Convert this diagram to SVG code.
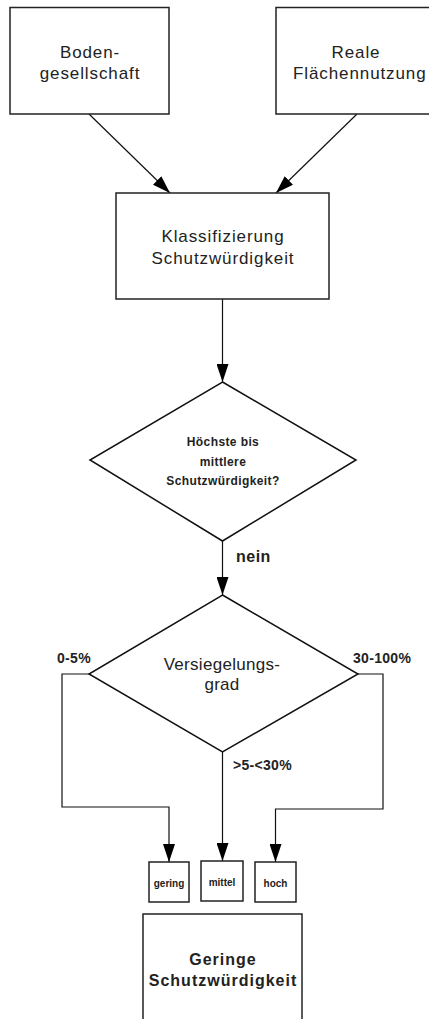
<svg xmlns="http://www.w3.org/2000/svg" width="429" height="1019" viewBox="0 0 429 1019">
<defs>
<marker id="arr" viewBox="0 0 18 12" refX="18" refY="6" markerWidth="18" markerHeight="12" markerUnits="userSpaceOnUse" orient="auto">
<path d="M0,0 L18,6 L0,12 z" fill="#000"/>
</marker>
<style>
.box{fill:#fff;stroke:#222;stroke-width:1.5}
.dia{fill:#fff;stroke:#111;stroke-width:1.5}
.con{fill:none;stroke:#111;stroke-width:1.2}
.arrow{marker-end:url(#arr)}
text{font-family:"Liberation Sans",Arial,sans-serif;fill:#222}
.t16{font-size:17px;letter-spacing:0.9px;text-anchor:middle}
.t12b{font-size:12px;font-weight:bold;letter-spacing:0.4px;text-anchor:middle}
.lbl{font-size:14px;font-weight:bold;letter-spacing:0.3px}
.t10b{font-size:10px;font-weight:bold;text-anchor:middle}
.t16b{font-size:16px;font-weight:bold;letter-spacing:1px;text-anchor:middle}
</style>
</defs>
<rect width="429" height="1019" fill="#fff"/>
<g id="connectors">
<line class="con arrow" x1="89" y1="114" x2="170" y2="193"/>
<line class="con arrow" x1="357" y1="114" x2="276" y2="193"/>
<line class="con arrow" x1="222.5" y1="299" x2="222.5" y2="382"/>
<line class="con arrow" x1="222.5" y1="541" x2="222.5" y2="595"/>
<polyline class="con arrow" points="89,674 62,674 62,807 169,807 169,862"/>
<line class="con arrow" x1="222.5" y1="752" x2="222.5" y2="861"/>
<polyline class="con arrow" points="358,674 383,674 383,809 275.5,809 275.5,862"/>
<text class="lbl" x="236" y="562" style="font-size:16px;letter-spacing:0.5px">nein</text>
<text class="lbl" x="57" y="663">0-5%</text>
<text class="lbl" x="353" y="663">30-100%</text>
<text class="lbl" x="233" y="770">&gt;5-&lt;30%</text>
</g>
<g id="bodengesellschaft">
<rect class="box" x="10" y="7.5" width="159" height="106.5"/>
<text class="t16" x="90" y="58">Boden-</text>
<text class="t16" x="90" y="79">gesellschaft</text>
</g>
<g id="flaechennutzung">
<rect class="box" x="276" y="7.5" width="160" height="106.5"/>
<text class="t16" x="356" y="58">Reale</text>
<text class="t16" x="293" y="79" style="text-anchor:start">Flächennutzung</text>
</g>
<g id="klassifizierung">
<rect class="box" x="116" y="193" width="213" height="106"/>
<text class="t16" x="223" y="242">Klassifizierung</text>
<text class="t16" x="223" y="264">Schutzwürdigkeit</text>
</g>
<g id="entscheidung1">
<polygon class="dia" points="222.5,382 356,460 222.5,541 90,460"/>
<text class="t12b" x="223" y="446">Höchste bis</text>
<text class="t12b" x="223" y="466">mittlere</text>
<text class="t12b" x="223" y="485">Schutzwürdigkeit?</text>
</g>
<g id="versiegelungsgrad">
<polygon class="dia" points="222.5,595 358,674 222.5,752 89,674"/>
<text class="t16" x="222" y="670" style="letter-spacing:0.3px">Versiegelungs-</text>
<text class="t16" x="222" y="690" style="letter-spacing:0.3px">grad</text>
</g>
<g id="gering">
<rect class="box" x="149" y="862" width="40" height="40"/>
<text class="t10b" x="169" y="887">gering</text>
</g>
<g id="mittel">
<rect class="box" x="201" y="861" width="42" height="40"/>
<text class="t10b" x="222" y="886">mittel</text>
</g>
<g id="hoch">
<rect class="box" x="255" y="862" width="41" height="40"/>
<text class="t10b" x="275.5" y="887">hoch</text>
</g>
<g id="geringe-schutzwuerdigkeit">
<rect class="box" x="143" y="914" width="159" height="120"/>
<text class="t16b" x="223" y="965">Geringe</text>
<text class="t16b" x="223" y="986">Schutzwürdigkeit</text>
</g>
</svg>
